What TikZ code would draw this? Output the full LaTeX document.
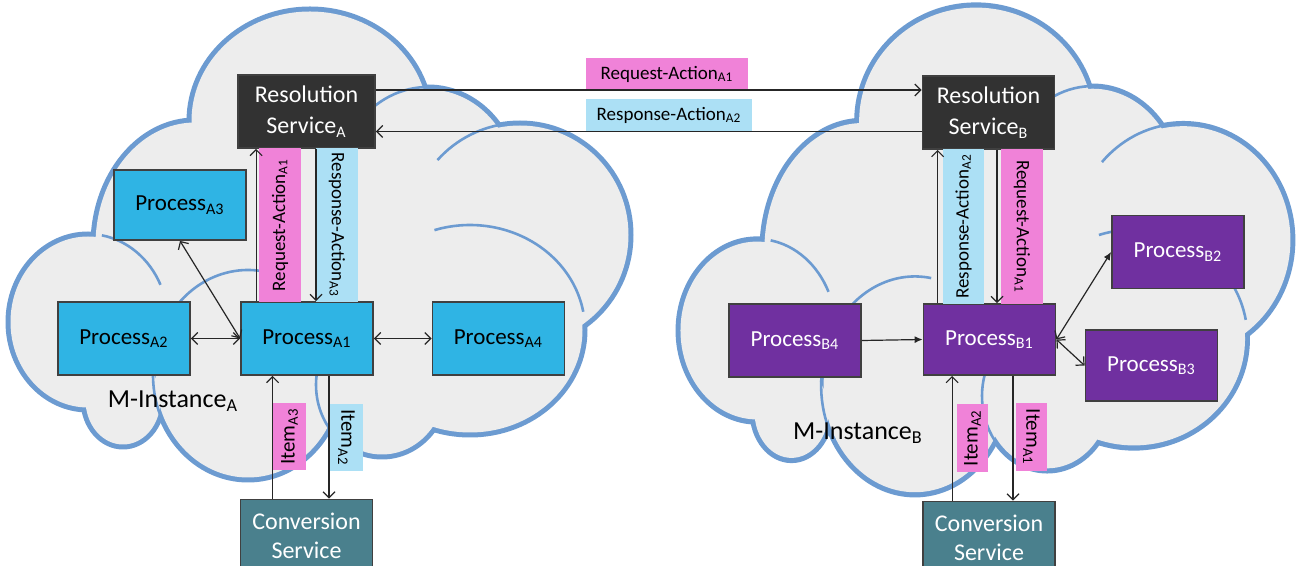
\documentclass[tikz,border=0pt]{standalone}
\usepackage{fontspec}
\setmainfont{Carlito}
\usetikzlibrary{arrows.meta, calc, positioning}

\definecolor{cloudfill}{RGB}{237,237,237}
\definecolor{cloudline}{RGB}{108,155,209}
\definecolor{procAfill}{RGB}{47,180,228}
\definecolor{procBfill}{RGB}{112,48,160}
\definecolor{resfill}{RGB}{50,50,50}
\definecolor{convfill}{RGB}{74,128,141}
\definecolor{pinkfill}{RGB}{240,130,216}
\definecolor{bluefill}{RGB}{172,224,245}
\definecolor{boxline}{RGB}{64,64,64}

\tikzset{box/.style={draw=boxline, line width=0.9pt, minimum width=66pt, minimum height=36.5pt, inner sep=0pt, align=center, font=\fontsize{11.5}{15.5}\selectfont}}
\tikzset{procA/.style={box, fill=procAfill, text=black}}
\tikzset{procB/.style={box, fill=procBfill, text=white}}
\tikzset{resv/.style={box, fill=resfill, text=white, font=\fontsize{12}{15.5}\selectfont}}
\tikzset{conv/.style={box, fill=convfill, text=white, font=\fontsize{12}{14.5}\selectfont}}
\tikzset{lbl/.style={inner sep=0pt, font=\fontsize{9.5}{11}\selectfont, text=black}}
\tikzset{lblpink/.style={lbl, fill=pinkfill}}
\tikzset{lblblue/.style={lbl, fill=bluefill}}
\tikzset{msg/.style={line width=0.6pt, draw=black!85}}

% puffs of one cloud: x/y/rx/ry (pixels)
\newcommand{\cloudpuffs}{310/121/121/112, 428/185/90/98, 520/235/111/112, 470/330/115/105,
  382/385/66/72, 248/375/95/105, 123/400/40/47, 88/322/80/88, 195/245/102/125}
% inner creases: x/y/rx/ry/start/end
\newcommand{\cloudcreases}{428/185/90/98/215/268, 520/235/111/112/222/265,
  470/330/115/105/252/350, 248/375/95/105/210/280, 88/322/80/88/280/335,
  382/385/66/72/140/205, 248/375/95/105/136/185}
\newcommand{\drawmcloud}{%
  \foreach \cx/\cy/\rx/\ry in \cloudpuffs
    \fill[cloudline] (\cx,\cy) ellipse [x radius=\rx+2.5, y radius=\ry+2.5];
  \fill[cloudfill] (330,260) ellipse [x radius=150, y radius=120];
  \foreach \cx/\cy/\rx/\ry in \cloudpuffs
    \fill[cloudfill] (\cx,\cy) ellipse [x radius=\rx-2.5, y radius=\ry-2.5];
  \foreach \cx/\cy/\rx/\ry/\sa/\ea in \cloudcreases
    \draw[cloudline, line width=1.3pt] (\cx,\cy) ++({\rx*cos(\sa)},{\ry*sin(\sa)})
      arc [start angle=\sa, end angle=\ea, x radius=\rx, y radius=\ry];
}

\begin{document}
\begin{tikzpicture}[x=0.5pt, y=-0.5pt, >={Straight Barb[length=3pt, width=6pt]}]
    \useasboundingbox (0,0) rectangle (1297,566);

    % clouds
    \drawmcloud
    \begin{scope}[shift={(679,5)}, xscale=0.987, yscale=1.04, shift={(-9,-9)}]
        \drawmcloud
    \end{scope}

    \node[font=\fontsize{13}{15}\selectfont] (mia) at (173,401) {M-Instance\textsubscript{A}};
    \node[font=\fontsize{13}{15}\selectfont] (mib) at (858,433) {M-Instance\textsubscript{B}};

    % instance A
    \node[resv, minimum width=68.5pt] (rsa) at (306.5,111.5) {Resolution\\Service\textsubscript{A}};
    \node[procA, minimum height=35pt] (pa3) at (180,205) {Process\textsubscript{A3}};
    \node[procA] (pa2) at (124,338.5) {Process\textsubscript{A2}};
    \node[procA] (pa1) at (307,338.5) {Process\textsubscript{A1}};
    \node[procA] (pa4) at (498.5,338.5) {Process\textsubscript{A4}};
    \node[conv] (csa) at (306.5,536) {Conversion\\Service};

    % instance B
    \node[resv] (rsb) at (988.5,112.5) {Resolution\\Service\textsubscript{B}};
    \node[procB, minimum height=35.5pt] (pb1) at (989.5,339.5) {Process\textsubscript{B1}};
    \node[procB] (pb4) at (795,340.5) {Process\textsubscript{B4}};
    \node[procB] (pb2) at (1178,252) {Process\textsubscript{B2}};
    \node[procB, minimum height=35.5pt] (pb3) at (1151.5,365.5) {Process\textsubscript{B3}};
    \node[conv] (csb) at (989,538) {Conversion\\Service};

    % labels
    \node[lblpink, minimum width=81pt, minimum height=16pt] (lreq) at (667,74) {Request-Action\textsubscript{A1}};
    \node[lblblue, minimum width=83pt, minimum height=16pt] (lres) at (669,115) {Response-Action\textsubscript{A2}};
    \node[lblpink, minimum width=77pt, minimum height=21pt, rotate=90] (lra1) at (280,225) {Request-Action\textsubscript{A1}};
    \node[lblblue, minimum width=77pt, minimum height=21pt, rotate=-90] (lrs3) at (337,225) {Response-Action\textsubscript{A3}};
    \node[lblblue, minimum width=77.5pt, minimum height=20.5pt, rotate=90] (lrs2) at (963.5,226.5) {Response-Action\textsubscript{A2}};
    \node[lblpink, minimum width=77.5pt, minimum height=21pt, rotate=-90] (lrb1) at (1022,226.5) {Request-Action\textsubscript{A1}};
    \node[lblpink, font=\fontsize{10.5}{12}\selectfont, minimum width=33.5pt, minimum height=16.5pt, rotate=90] (ia3) at (289.5,436.5) {Item\textsubscript{A3}};
    \node[lblblue, font=\fontsize{10.5}{12}\selectfont, minimum width=33.5pt, minimum height=16.5pt, rotate=-90] (ia2) at (346.5,437.5) {Item\textsubscript{A2}};
    \node[lblpink, font=\fontsize{10.5}{12}\selectfont, minimum width=34pt, minimum height=15.5pt, rotate=90] (ib2) at (972.5,438) {Item\textsubscript{A2}};
    \node[lblpink, font=\fontsize{10.5}{12}\selectfont, minimum width=34pt, minimum height=15.5pt, rotate=-90] (ib1) at (1031.5,437) {Item\textsubscript{A1}};

    % between resolution services
    \draw[msg, ->] ([yshift=10.75pt]rsa.east) -- ([yshift=10.75pt]rsa.east -| rsb.west);
    \draw[msg, ->] ([yshift=-9.5pt]rsb.west) -- ([yshift=-9.5pt]rsb.west -| rsa.east);

    \coordinate (upa) at ([xshift=8pt]pa1.north west);
    \coordinate (dna) at ([xshift=4.5pt]pa1.north);
    \coordinate (upb) at ([xshift=7.5pt]pb1.north west);
    \coordinate (dnb) at ([xshift=3.75pt]pb1.north);
    \draw[msg, ->] (upa) -- (upa |- rsa.south);
    \draw[msg, ->] (dna |- rsa.south) -- (dna);
    \draw[msg, ->] (upb) -- (upb |- rsb.south);
    \draw[msg, ->] (dnb |- rsb.south) -- (dnb);

    \coordinate (cua) at ([xshift=16.5pt]csa.north west);
    \coordinate (cda) at ([xshift=11pt]pa1.south);
    \coordinate (cub) at ([xshift=15pt]csb.north west);
    \coordinate (cdb) at ([xshift=11.75pt]pb1.south);
    \draw[msg, ->] (cua) -- (cua |- pa1.south);
    \draw[msg, ->] (cda) -- (cda |- csa.north);
    \draw[msg, ->] (cub) -- (cub |- pb1.south);
    \draw[msg, ->] (cdb) -- (cdb |- csb.north);

    % processes
    \draw[msg, <->] (pa3.south) -- (pa1.west);
    \draw[msg, <->] (pa2.east) -- (pa1.west);
    \draw[msg, <->] (pa1.east) -- (pa4.west);
    \draw[msg, -{Latex[length=4pt, width=3.5pt]}] (pb4.east) -- (pb1.west);
    \draw[msg, <-{Latex[length=4pt, width=3.5pt]}] (pb1.east) -- (pb2.west);
    \draw[msg, <->] (pb1.east) -- (pb3.west);
\end{tikzpicture}
\end{document}
